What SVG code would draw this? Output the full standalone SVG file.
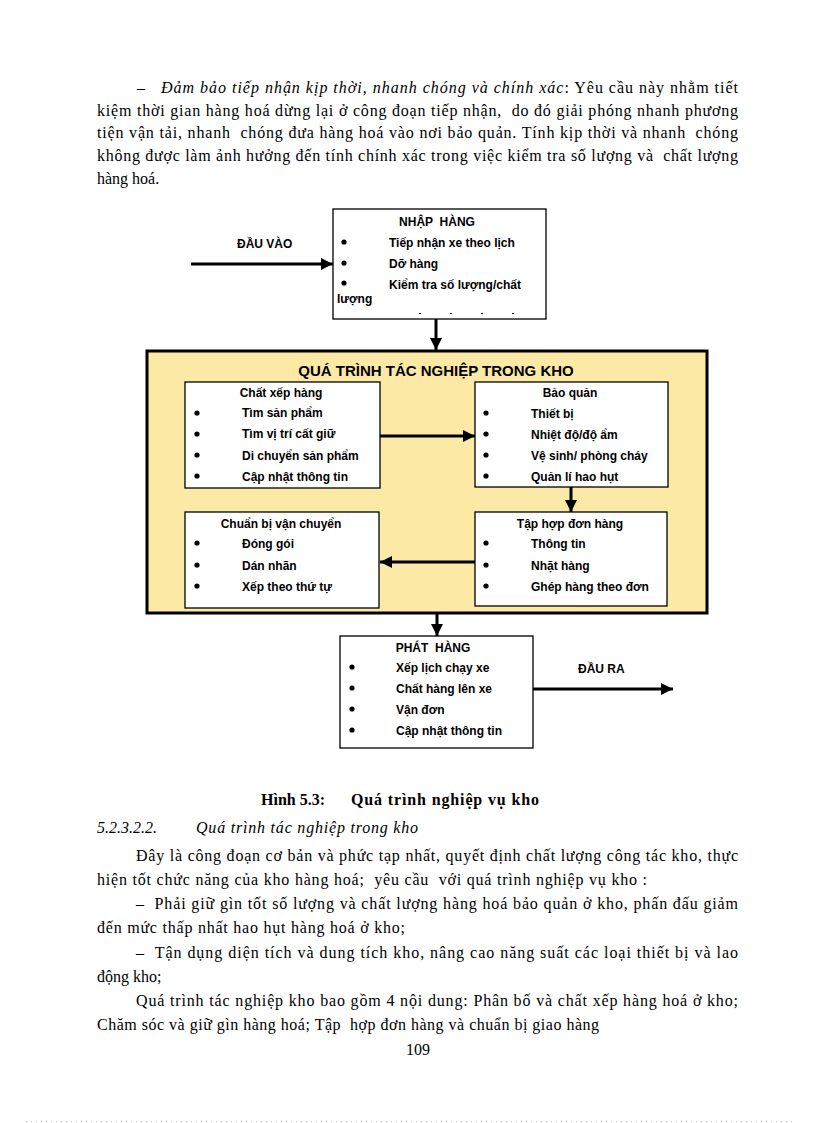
<svg xmlns="http://www.w3.org/2000/svg" width="816" height="1123" viewBox="0 0 816 1123">
<style>
text{white-space:pre}
.body{font-family:"Liberation Serif","Times New Roman",serif;font-size:16px;fill:#000}
.it{font-style:italic}
.bd{font-weight:bold}
.box{fill:#fff;stroke:#000;stroke-width:1.3}
.big{fill:#FCE9A6;stroke:#000;stroke-width:3}
.t{font-family:"Liberation Sans",Arial,sans-serif;font-size:12px;font-weight:bold;fill:#000}
.title{font-family:"Liberation Sans",Arial,sans-serif;font-size:15px;font-weight:bold;fill:#000}
.conn{stroke:#000;stroke-width:3;fill:none}
</style>
<defs>
<marker id="ah" markerUnits="userSpaceOnUse" viewBox="0 0 12 12" refX="12" refY="6" markerWidth="12" markerHeight="12" orient="auto">
<path d="M0,0 L12,6 L0,12 z" fill="#000"/>
</marker>
</defs>
<rect width="816" height="1123" fill="#fff"/>

<!-- top paragraph -->
<g id="para-top" class="body">
<text x="137" y="93" textLength="601" lengthAdjust="spacing">–   <tspan class="it">Đảm bảo tiếp nhận kịp thời, nhanh chóng và chính xác</tspan>: Yêu cầu này nhằm tiết</text>
<text x="97" y="116" textLength="641" lengthAdjust="spacing">kiệm thời gian hàng hoá dừng lại ở công đoạn tiếp nhận,  do đó giải phóng nhanh phương</text>
<text x="97" y="138" textLength="641" lengthAdjust="spacing">tiện vận tải, nhanh  chóng đưa hàng hoá vào nơi bảo quản. Tính kịp thời và nhanh  chóng</text>
<text x="97" y="161" textLength="641" lengthAdjust="spacing">không được làm ảnh hưởng đến tính chính xác trong việc kiểm tra số lượng và  chất lượng</text>
<text x="97" y="184">hàng hoá.</text>
</g>

<!-- big container -->
<g id="container">
<rect class="big" x="147" y="351" width="560" height="262"/>
<text class="title" x="436" y="376" text-anchor="middle">QUÁ TRÌNH TÁC NGHIỆP TRONG KHO</text>
</g>

<g id="connectors">
<line class="conn" x1="191" y1="264" x2="333" y2="264" marker-end="url(#ah)"/>
<line class="conn" x1="436" y1="319" x2="436" y2="350" marker-end="url(#ah)"/>
<line class="conn" x1="380" y1="436" x2="475" y2="436" marker-end="url(#ah)"/>
<line class="conn" x1="571" y1="487" x2="571" y2="512" marker-end="url(#ah)"/>
<line class="conn" x1="475" y1="562" x2="380" y2="562" marker-end="url(#ah)"/>
<line class="conn" x1="437" y1="614" x2="437" y2="636" marker-end="url(#ah)"/>
<line class="conn" x1="533" y1="689" x2="673" y2="689" marker-end="url(#ah)"/>
</g>

<g id="label-dau-vao"><text class="t" x="237" y="248">ĐẦU VÀO</text></g>
<g id="label-dau-ra"><text class="t" x="578" y="673">ĐẦU RA</text></g>

<g id="nhap-hang">
<rect class="box" x="333" y="209" width="213" height="110"/>
<text class="t" x="437" y="226" text-anchor="middle">NHẬP  HÀNG</text>
<circle cx="344" cy="242" r="2.6"/><text class="t" x="389" y="247">Tiếp nhận xe theo lịch</text>
<circle cx="344" cy="263" r="2.6"/><text class="t" x="389" y="268">Dỡ hàng</text>
<circle cx="344" cy="283" r="2.6"/><text class="t" x="389" y="289">Kiểm tra số lượng/chất</text>
<text class="t" x="337" y="303">lượng</text>
<g fill="#000"><rect x="419" y="313" width="2" height="1"/><rect x="450" y="313" width="2" height="1"/><rect x="481" y="313" width="2" height="1"/><rect x="512" y="313" width="2" height="1"/></g>
</g>

<g id="chat-xep-hang">
<rect class="box" x="185" y="382" width="195" height="106"/>
<text class="t" x="281" y="397" text-anchor="middle">Chất xếp hàng</text>
<circle cx="197" cy="413" r="2.6"/><text class="t" x="242" y="417">Tìm sản phẩm</text>
<circle cx="197" cy="434" r="2.6"/><text class="t" x="242" y="438">Tìm vị trí cất giữ</text>
<circle cx="197" cy="455" r="2.6"/><text class="t" x="242" y="460">Di chuyển sản phẩm</text>
<circle cx="197" cy="476" r="2.6"/><text class="t" x="242" y="481">Cập nhật thông tin</text>
</g>

<g id="bao-quan">
<rect class="box" x="475" y="382" width="193" height="105"/>
<text class="t" x="570" y="397" text-anchor="middle">Bảo quản</text>
<circle cx="486" cy="413" r="2.6"/><text class="t" x="531" y="418">Thiết bị</text>
<circle cx="486" cy="434" r="2.6"/><text class="t" x="531" y="439">Nhiệt độ/độ ẩm</text>
<circle cx="486" cy="455" r="2.6"/><text class="t" x="531" y="460">Vệ sinh/ phòng cháy</text>
<circle cx="486" cy="476" r="2.6"/><text class="t" x="531" y="481">Quản lí hao hụt</text>
</g>

<g id="chuan-bi-van-chuyen">
<rect class="box" x="185" y="512" width="194" height="96"/>
<text class="t" x="281" y="528" text-anchor="middle">Chuẩn bị vận chuyển</text>
<circle cx="197" cy="543" r="2.6"/><text class="t" x="242" y="548">Đóng gói</text>
<circle cx="197" cy="565" r="2.6"/><text class="t" x="242" y="570">Dán nhãn</text>
<circle cx="197" cy="586" r="2.6"/><text class="t" x="242" y="591">Xếp theo thứ tự</text>
</g>

<g id="tap-hop-don-hang">
<rect class="box" x="475" y="512" width="192" height="94"/>
<text class="t" x="570" y="528" text-anchor="middle">Tập hợp đơn hàng</text>
<circle cx="486" cy="543" r="2.6"/><text class="t" x="531" y="548">Thông tin</text>
<circle cx="486" cy="565" r="2.6"/><text class="t" x="531" y="570">Nhặt hàng</text>
<circle cx="486" cy="586" r="2.6"/><text class="t" x="531" y="591">Ghép hàng theo đơn</text>
</g>

<g id="phat-hang">
<rect class="box" x="340" y="636" width="193" height="112"/>
<text class="t" x="433" y="652" text-anchor="middle">PHÁT  HÀNG</text>
<circle cx="352" cy="667" r="2.6"/><text class="t" x="396" y="672">Xếp lịch chạy xe</text>
<circle cx="352" cy="688" r="2.6"/><text class="t" x="396" y="693">Chất hàng lên xe</text>
<circle cx="352" cy="709" r="2.6"/><text class="t" x="396" y="714">Vận đơn</text>
<circle cx="352" cy="730" r="2.6"/><text class="t" x="396" y="735">Cập nhật thông tin</text>
</g>

<!-- lower text -->
<g id="para-bottom" class="body">
<text class="bd" x="261" y="805">Hình 5.3:</text>
<text class="bd" x="351" y="805" textLength="188" lengthAdjust="spacing">Quá trình nghiệp vụ kho</text>
<text class="it" x="97" y="833">5.2.3.2.2.</text>
<text class="it" x="196" y="833" textLength="222" lengthAdjust="spacing">Quá trình tác nghiệp trong kho</text>
<text x="136" y="861" textLength="602" lengthAdjust="spacing">Đây là công đoạn cơ bản và phức tạp nhất, quyết định chất lượng công tác kho, thực</text>
<text x="97" y="885" textLength="550" lengthAdjust="spacing">hiện tốt chức năng của kho hàng hoá;  yêu cầu  với quá trình nghiệp vụ kho :</text>
<text x="136" y="909" textLength="602" lengthAdjust="spacing">–  Phải giữ gìn tốt số lượng và chất lượng hàng hoá bảo quản ở kho, phấn đấu giảm</text>
<text x="97" y="933" textLength="308" lengthAdjust="spacing">đến mức thấp nhất hao hụt hàng hoá ở kho;</text>
<text x="136" y="958" textLength="602" lengthAdjust="spacing">–  Tận dụng diện tích và dung tích kho, nâng cao năng suất các loại thiết bị và lao</text>
<text x="97" y="982">động kho;</text>
<text x="136" y="1006" textLength="602" lengthAdjust="spacing">Quá trình tác nghiệp kho bao gồm 4 nội dung: Phân bố và chất xếp hàng hoá ở kho;</text>
<text x="97" y="1030" textLength="502" lengthAdjust="spacing">Chăm sóc và giữ gìn hàng hoá; Tập  hợp đơn hàng và chuẩn bị giao hàng</text>
<text x="418" y="1055" text-anchor="middle">109</text>
</g>

<line x1="26" y1="1121.5" x2="792" y2="1121.5" stroke="#bbb" stroke-width="1" stroke-dasharray="1,4"/>
</svg>
